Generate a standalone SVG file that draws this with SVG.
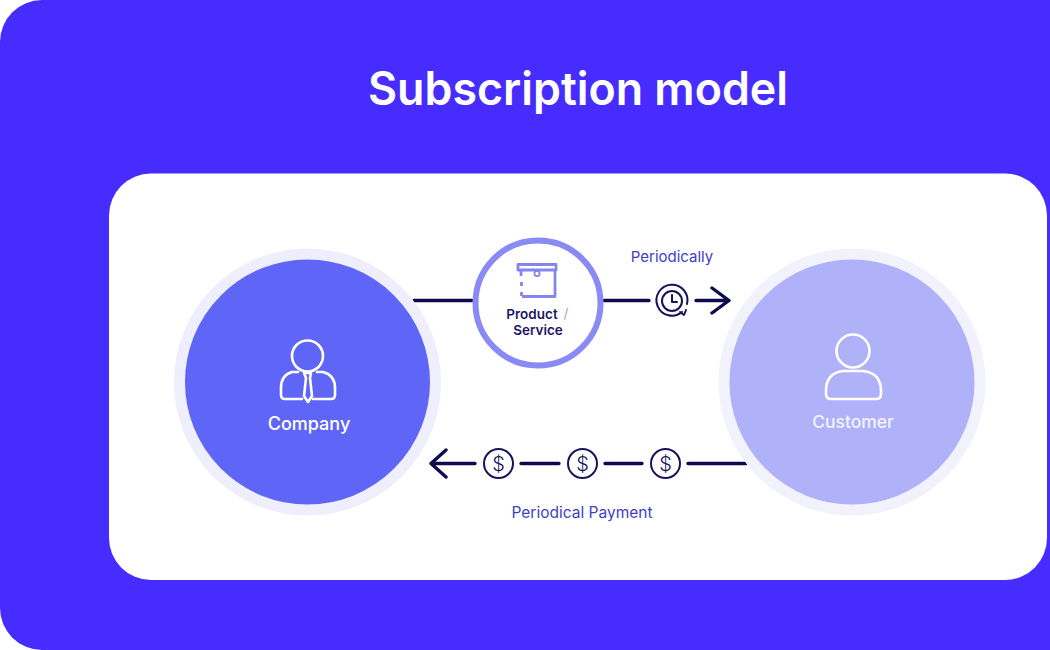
<svg xmlns="http://www.w3.org/2000/svg" width="1050" height="650" viewBox="0 0 1050 650">
<style>
text{font-family:"Inter","Liberation Sans",sans-serif;text-anchor:middle}
.line{fill:none;stroke:#0f0a50;stroke-width:3.4;stroke-linecap:round;stroke-linejoin:round}
.thin{fill:none;stroke:#17125c;stroke-width:2;stroke-linecap:round;stroke-linejoin:round}
.ico{fill:none;stroke:#fff;stroke-width:2.6;stroke-linecap:round;stroke-linejoin:round}
.blue{fill:#3f3fc4;font-size:15px}
.dark{fill:#1d1866;font-size:13.5px;font-weight:600}
.box{fill:none;stroke:#8585f0;stroke-width:2.8;stroke-linejoin:round}
</style>
<defs>
<g id="dollar"><circle r="14.5" class="thin"/><text y="7" style="font-size:20px;font-weight:300;fill:#17125c">$</text></g>
</defs>
<rect width="1050" height="650" fill="#fff"/>
<rect x="0" y="0" width="1120" height="650" rx="42" fill="#472cff"/>
<text x="578" y="105" style="font-size:46px;font-weight:600;fill:#fff" textLength="420" lengthAdjust="spacingAndGlyphs">Subscription model</text>
<rect x="109" y="173.500" width="938" height="406.500" rx="42" fill="#fff"/>
<g id="connectors">
<path class="line" d="M414 300.500H472M604 300.500H649M696 300.500H728M712 288L729 300.500L712 313"/>
<path class="line" d="M432 463.500H475M521 463.500H559M605 463.500H642M688 463.500H746M446 450L431 463.500L446 477"/>
</g>
<g id="company">
<circle cx="307.500" cy="382" r="128" fill="#5f66f7" stroke="#eeeefc" stroke-width="11"/>
<circle class="ico" cx="307.500" cy="356" r="15.500"/>
<path class="ico" d="M298 372H292Q281 375 281 388V395Q281 399 285 399H302M313 399H331Q335 399 335 395V388Q335 375 323 372H317"/>
<path class="ico" stroke-width="1.800" d="M304 373H311L310 378L312 396L308 402L304 396L306 378Z"/>
<text x="309" y="430" style="font-size:18px;font-weight:500;fill:#fff">Company</text>
</g>
<g id="customer">
<circle cx="852" cy="382" r="128" fill="#afb1f9" stroke="#f2f2fd" stroke-width="11"/>
<circle class="ico" cx="853" cy="351" r="16.500"/>
<path class="ico" d="M843 371H863Q881 373 881 391V394Q881 399 876 399H831Q826 399 826 394V391Q826 373 843 371Z"/>
<text x="853" y="428" style="font-size:17.500px;font-weight:500;fill:#fff" opacity=".85">Customer</text>
</g>
<g id="product">
<circle cx="538" cy="303" r="62.500" fill="#fff" stroke="#8a8af5" stroke-width="6"/>
<path class="box" d="M518 264.500H556V270H518Z"/>
<path class="box" d="M555 270V296.500H522M521 270V276M521.500 282V286M521.500 292V296"/>
<circle cx="537" cy="273.500" r="2.600" fill="none" stroke="#8585f0" stroke-width="1.800"/>
<text class="dark" x="532" y="319">Product</text>
<text x="566" y="318" style="font-size:13.500px;fill:#a0a0d8">/</text>
<text class="dark" x="538" y="335">Service</text>
</g>
<g id="clock">
<circle class="thin" cx="672" cy="301" r="10"/>
<path class="thin" d="M672 295V302H677M682 312A15.500 15.500 0 1 1 687 304M680 312L684 315L686 310"/>
</g>
<use href="#dollar" x="498.500" y="463.500"/>
<use href="#dollar" x="582.500" y="463.500"/>
<use href="#dollar" x="665.500" y="463.500"/>
<text class="blue" x="672" y="262">Periodically</text>
<text class="blue" x="582" y="518" style="font-size:15.500px">Periodical Payment</text>
</svg>
